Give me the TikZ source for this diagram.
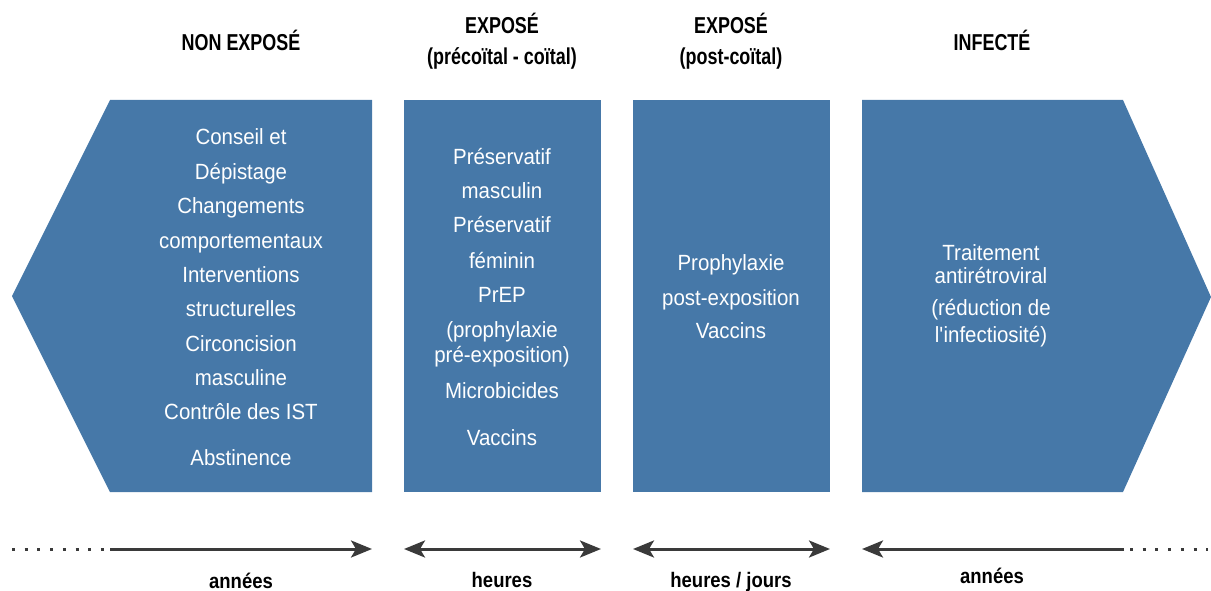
\documentclass[tikz,border=0pt]{standalone}
\usepackage{fontspec}
\setmainfont{Liberation Sans}[FakeStretch=0.93]
\newfontfamily\hdrfont{Liberation Sans}[FakeStretch=0.78]
\newfontfamily\lblfont{Liberation Sans}[FakeStretch=0.88]
\usetikzlibrary{arrows.meta}
\definecolor{boxblue}{HTML}{4678A8}
\definecolor{arrgray}{HTML}{3A3A3A}
\tikzset{
  panel/.style={fill=boxblue, draw=none},
  txt/.style={text=white, anchor=base, inner sep=0pt, font=\fontsize{22}{24}\selectfont},
  hdr/.style={text=black, anchor=base, inner sep=0pt, font=\hdrfont\bfseries\fontsize{23}{26}\selectfont},
  lbl/.style={text=black, anchor=base, inner sep=0pt, font=\lblfont\bfseries\fontsize{21}{24}\selectfont},
  timeline/.style={draw=arrgray, line width=3pt},
  dots/.style={draw=arrgray, line width=3pt, dash pattern=on 3pt off 9.7pt},
  tip/.style={-{Stealth[length=21pt,width=17pt,inset=5pt]}},
  tips/.style={{Stealth[length=21pt,width=17pt,inset=5pt]}-{Stealth[length=21pt,width=17pt,inset=5pt]}},
}
\begin{document}
\begin{tikzpicture}[x=1pt,y=-1pt]
\useasboundingbox (0,0) rectangle (1211,591);
% panels
\fill[panel] (110,100) -- (372,100) -- (372,492) -- (110,492) -- (12,296) -- cycle;
\fill[panel] (404,100) rectangle (601,492);
\fill[panel] (633,100) rectangle (830,492);
\fill[panel] (862,100) -- (1123,100) -- (1211,297) -- (1123,492) -- (862,492) -- cycle;
% headers
\node[hdr] (h1) at (241,51) {NON EXPOSÉ};
\node[hdr] (h2a) at (502,34) {EXPOSÉ};
\node[hdr] (h2b) at (502,65) {(précoïtal - coïtal)};
\node[hdr] (h3a) at (731,34) {EXPOSÉ};
\node[hdr] (h3b) at (731,65) {(post-coïtal)};
\node[hdr] (h4) at (992,51) {INFECTÉ};
% box 1
\foreach \t/\y [count=\i] in {{Conseil et}/145, {Dépistage}/179, {Changements}/214, {comportementaux}/248, {Interventions}/282, {structurelles}/316, {Circoncision}/351, {masculine}/385, {Contrôle des IST}/419, {Abstinence}/465}
  \node[txt] (b1-\i) at (241,\y) {\t};
% box 2
\foreach \t/\y [count=\i] in {{Préservatif}/165, {masculin}/199, {Préservatif}/233, {féminin}/268, {PrEP}/302, {(prophylaxie}/337, {pré-exposition)}/362, {Microbicides}/398, {Vaccins}/445}
  \node[txt] (b2-\i) at (502,\y) {\t};
% box 3
\foreach \t/\y [count=\i] in {{Prophylaxie}/270, {post-exposition}/305, {Vaccins}/338}
  \node[txt] (b3-\i) at (731,\y) {\t};
% box 4
\foreach \t/\y [count=\i] in {{Traitement}/260, {antirétroviral}/283, {(réduction de}/315, {l\textquotesingle infectiosité)}/342}
  \node[txt] (b4-\i) at (991,\y) {\t};
% timeline coordinates
\coordinate (d1s) at (12,549);
\coordinate (d1e) at (106,549);
\coordinate (a1s) at (110,549);
\coordinate (a1e) at (372,549);
\coordinate (a2s) at (404,549);
\coordinate (a2e) at (601,549);
\coordinate (a3s) at (633,549);
\coordinate (a3e) at (830,549);
\coordinate (a4s) at (1124,549);
\coordinate (a4e) at (862,549);
\coordinate (d4s) at (1130,549);
\coordinate (d4e) at (1208,549);
\draw[dots] (d1s) -- (d1e);
\draw[timeline, tip] (a1s) -- (a1e);
\draw[timeline, tips] (a2s) -- (a2e);
\draw[timeline, tips] (a3s) -- (a3e);
\draw[timeline, tip] (a4s) -- (a4e);
\draw[dots] (d4s) -- (d4e);
% labels
\node[lbl] (l1) at (241,588) {années};
\node[lbl] (l2) at (502,587) {heures};
\node[lbl] (l3) at (731,587) {heures / jours};
\node[lbl] (l4) at (992,583) {années};
\end{tikzpicture}
\end{document}
